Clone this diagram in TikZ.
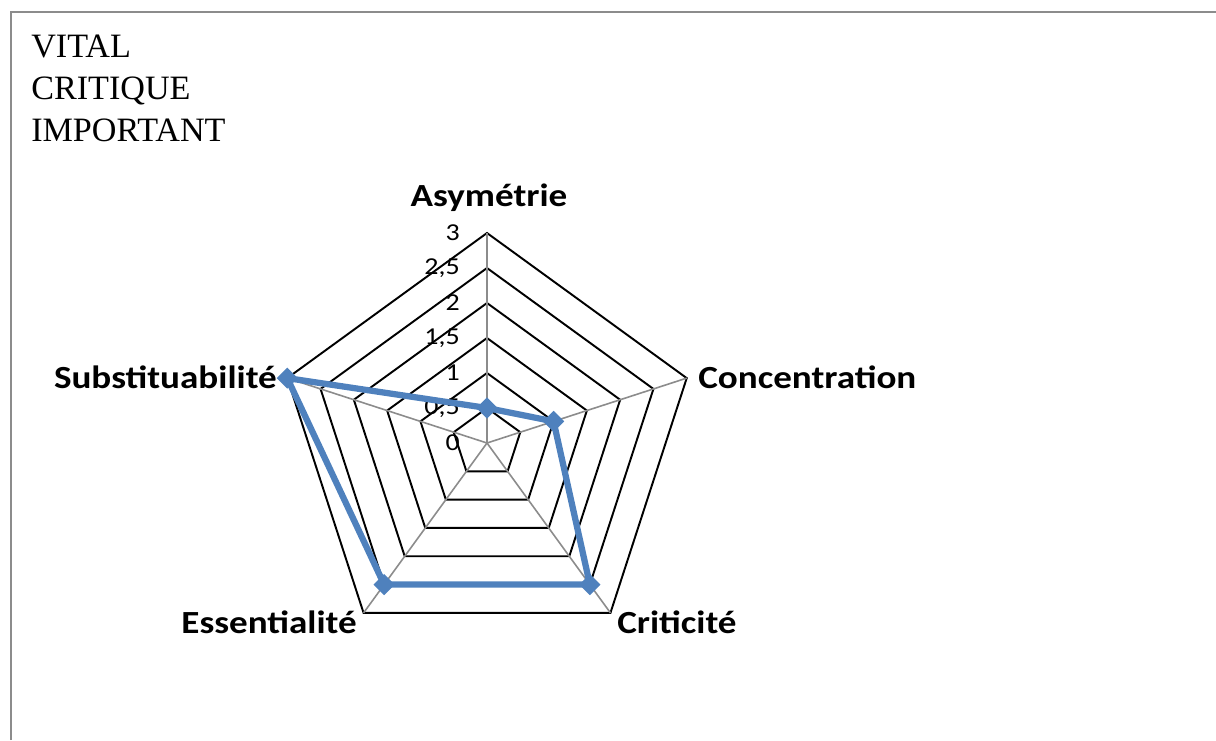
\documentclass[tikz,border=0pt]{standalone}
\usepackage{fontspec}
\setmainfont{Liberation Serif}
\newfontfamily\chartfont{Carlito}
\usetikzlibrary{shapes.geometric}
\definecolor{serieblue}{RGB}{79,129,189}
\tikzset{
  levelname/.style={font=\fontsize{25.6}{30}\selectfont, inner sep=0pt, anchor=base west},
  axisname/.style={font=\chartfont\bfseries\fontsize{24.2}{28}\selectfont, inner sep=0pt},
  ticklabel/.style={font=\chartfont\fontsize{18.2}{21}\selectfont, inner sep=0pt, anchor=east},
  ringline/.style={black, line width=1.45pt},
  spokeline/.style={black!45, line width=1.2pt},
  serie/.style={serieblue, line width=4.7pt, line join=round},
  marker/.style={diamond, fill=serieblue, inner sep=0pt, minimum size=16pt}
}
\newcommand{\wide}[1]{\scalebox{1.15}[1]{#1}}
\begin{document}
\begin{tikzpicture}[x=0.75pt,y=-0.75pt]
  \useasboundingbox (0,0) rectangle (1216,740);
  \draw[black!45, line width=1.5pt] (11,740) -- (11,12) -- (1216,12);

  \node[levelname] (vital) at (31,57) {VITAL};
  \node[levelname] (critique) at (31,99) {CRITIQUE};
  \node[levelname] (important) at (31,141) {IMPORTANT};

  \begin{scope}[shift={(487,443)}, yscale=-1]
    \foreach \k in {1,...,6} {
      \pgfmathsetmacro{\r}{35*\k}
      \draw[ringline] (90:\r) -- (18:\r) -- (-54:\r) -- (-126:\r) -- (162:\r) -- cycle;
    }
    \foreach \a in {90,18,-54,-126,162}
      \draw[spokeline] (0,0) -- (\a:210);
    \foreach \v/\t in {0/0,1/{0,5},2/1,3/{1,5},4/2,5/{2,5},6/3}
      \node[ticklabel] (tick\v) at (-27,35*\v) {\wide{\t}};

    \coordinate (asym) at (90:35);
    \coordinate (conc) at (18:70);
    \coordinate (crit) at (-54:175);
    \coordinate (ess) at (-126:175);
    \coordinate (subs) at (162:210);
    \draw[serie] (asym) -- (conc) -- (crit) -- (ess) -- (subs) -- cycle;
    \foreach \p in {asym,conc,crit,ess,subs}
      \node[marker] (m\p) at (\p) {};
  \end{scope}

  \node[axisname, anchor=base] (asymetrie) at (489,206) {\wide{Asymétrie}};
  \node[axisname, anchor=base west] (concentration) at (698,388) {\wide{Concentration}};
  \node[axisname, anchor=base west] (criticite) at (617,633) {\wide{Criticité}};
  \node[axisname, anchor=base east] (essentialite) at (357,633) {\wide{Essentialité}};
  \node[axisname, anchor=base east] (substituabilite) at (277,388) {\wide{Substituabilité}};
\end{tikzpicture}
\end{document}
